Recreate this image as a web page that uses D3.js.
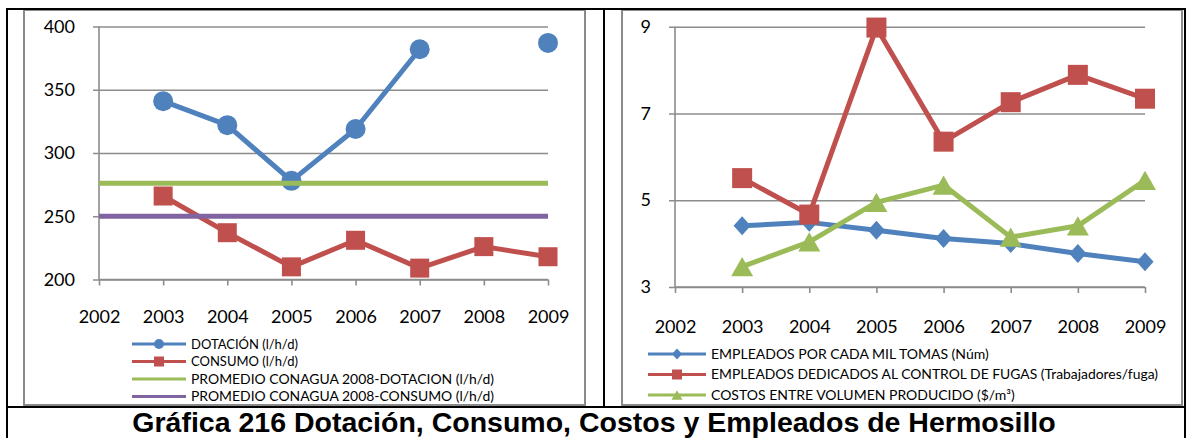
<!DOCTYPE html>
<html>
<head>
<meta charset="utf-8">
<script src="https://cdn.jsdelivr.net/npm/d3@7"></script>
<style>
  body { margin: 0; background: #fff; }
  svg { display: block; }
  .tick text { font-family: Lato, "Open Sans", sans-serif; fill: #000; }
</style>
</head>
<body>
<svg id="chart" width="1188" height="438"></svg>
<script>
// ---- data ----
const axisYears = [2002, 2003, 2004, 2005, 2006, 2007, 2008, 2009];
const years = [2003, 2004, 2005, 2006, 2007, 2008, 2009];

// left chart (l/h/d)
const dotacion = [341, 322, 278, 319, 382, null, 387];
const consumo = [266, 237, 210, 231, 209, 226, 218];
const promDotacion = [276, 276, 276, 276, 276, 276, 276, 276]; // 2002-2009
const promConsumo = [250, 250, 250, 250, 250, 250, 250, 250];
const leftTicks = [200, 250, 300, 350, 400];

// right chart
const empleadosMil = [4.41, 4.49, 4.31, 4.12, 4.00, 3.77, 3.58];
const empleadosFugas = [5.51, 4.67, 8.98, 6.35, 7.26, 7.89, 7.34];
const costos = [3.47, 4.04, 4.95, 5.35, 4.15, 4.41, 5.46];
const rightTicks = [3, 5, 7, 9];

const leftLegend = [
  "DOTACIÓN (l/h/d)",
  "CONSUMO (l/h/d)",
  "PROMEDIO CONAGUA 2008-DOTACION (l/h/d)",
  "PROMEDIO CONAGUA 2008-CONSUMO (l/h/d)"
];
const rightLegend = [
  "EMPLEADOS POR CADA MIL TOMAS (Núm)",
  "EMPLEADOS DEDICADOS AL CONTROL DE FUGAS (Trabajadores/fuga)",
  "COSTOS ENTRE VOLUMEN PRODUCIDO ($/m³)"
];
const title = "Gráfica 216 Dotación, Consumo, Costos y Empleados de Hermosillo";

const BLUE = "#4f81bd", RED = "#c0504d", GREEN = "#9bbb59", PURPLE = "#8064a2";
const GRID = "#8c8c8c", FRAME = "#8a8a8a";
const FONT = "Lato, 'Open Sans', sans-serif";

const svg = d3.select("#chart");

// ---- table borders and chart frames ----
svg.append("rect").attr("x", 24).attr("y", 10).attr("width", 561).attr("height", 395)
  .attr("fill", "none").attr("stroke", FRAME).attr("stroke-width", 2);
svg.append("rect").attr("x", 622).attr("y", 10).attr("width", 560).attr("height", 395)
  .attr("fill", "none").attr("stroke", FRAME).attr("stroke-width", 2);

const border = svg.append("g").attr("stroke", "#000").attr("stroke-width", 2);
border.append("line").attr("x1", 6).attr("x2", 1186).attr("y1", 9).attr("y2", 9);
border.append("line").attr("x1", 7).attr("x2", 7).attr("y1", 8).attr("y2", 438);
border.append("line").attr("x1", 604).attr("x2", 604).attr("y1", 8).attr("y2", 407);
border.append("line").attr("x1", 6).attr("x2", 1186).attr("y1", 407).attr("y2", 407);
border.append("line").attr("x1", 1185).attr("x2", 1185).attr("y1", 8).attr("y2", 438);

// ---- helpers ----
function drawAxes(g, x, y, yTicks, xPad) {
  const [x0, x1] = x.range();
  const yAxis = g.append("g").attr("transform", `translate(${x0},0)`)
    .call(d3.axisLeft(y).tickValues(yTicks).tickSize(6).tickPadding(18).tickFormat(d3.format("d")));
  yAxis.select(".domain").remove();
  yAxis.selectAll(".tick line").attr("x1", -6).attr("x2", x1 - x0)
    .attr("stroke", GRID).attr("stroke-width", 1.6);
  yAxis.selectAll(".tick text").style("font-size", "18px");

  const yb = y.range()[0];
  const xAxis = g.append("g").attr("transform", `translate(0,${yb})`)
    .call(d3.axisBottom(x).tickValues(axisYears).tickSize(6).tickPadding(xPad).tickFormat(d3.format("d")));
  xAxis.select(".domain").attr("stroke", GRID).attr("stroke-width", 1.6)
    .attr("d", `M${x0},0H${x1}`);
  xAxis.selectAll(".tick line").attr("stroke", GRID).attr("stroke-width", 1.6);
  xAxis.selectAll(".tick text").style("font-size", "18px");

  g.append("line").attr("x1", x0).attr("x2", x0)
    .attr("y1", y.range()[1]).attr("y2", yb)
    .attr("stroke", GRID).attr("stroke-width", 1.6);
}

function drawSeries(g, x, y, xs, values, color, width) {
  const line = d3.line().defined(d => d[1] != null)
    .x(d => x(d[0])).y(d => y(d[1]));
  g.append("path").datum(xs.map((yr, i) => [yr, values[i]]))
    .attr("d", line).attr("fill", "none").attr("stroke", color)
    .attr("stroke-width", width).attr("stroke-linejoin", "round");
}

function marker(g, kind, cx, cy, size, color) {
  if (kind === "circle") {
    g.append("circle").attr("cx", cx).attr("cy", cy).attr("r", size / 2).attr("fill", color);
  } else if (kind === "square") {
    g.append("rect").attr("x", cx - size / 2).attr("y", cy - size / 2)
      .attr("width", size).attr("height", size).attr("fill", color);
  } else if (kind === "diamond") {
    const h = size / 2, w = size * 0.45;
    g.append("path").attr("d", `M${cx},${cy - h}L${cx + w},${cy}L${cx},${cy + h}L${cx - w},${cy}Z`)
      .attr("fill", color);
  } else if (kind === "triangle") {
    const h = size * 0.48, w = size * 0.55;
    g.append("path").attr("d", `M${cx},${cy - h}L${cx + w},${cy + h}L${cx - w},${cy + h}Z`)
      .attr("fill", color);
  }
}

function drawMarkers(g, x, y, xs, values, kind, size, color) {
  xs.forEach((yr, i) => {
    if (values[i] != null) marker(g, kind, x(yr), y(values[i]), size, color);
  });
}

function drawLegend(g, items, x0, y0, step, fontSize, lens) {
  items.forEach((it, i) => {
    const yy = y0 + i * step;
    g.append("line").attr("x1", x0).attr("x2", x0 + it.len).attr("y1", yy).attr("y2", yy)
      .attr("stroke", it.color).attr("stroke-width", 3);
    if (it.kind) marker(g, it.kind, x0 + it.len / 2, yy, it.size, it.color);
    const t = g.append("text").attr("x", x0 + it.len + 5).attr("y", yy)
      .attr("dy", "0.35em").attr("font-family", FONT).attr("font-size", fontSize)
      .attr("fill", "#000").text(it.label);
    if (lens && lens[i]) t.attr("textLength", lens[i]).attr("lengthAdjust", "spacingAndGlyphs");
  });
}

// ---- left chart ----
const xL = d3.scaleLinear().domain([2002, 2009]).range([99, 548]);
const yL = d3.scaleLinear().domain([200, 400]).range([279.5, 26.5]);
const gL = svg.append("g");
drawAxes(gL, xL, yL, leftTicks, 25);

drawSeries(gL, xL, yL, years, dotacion, BLUE, 5);
drawMarkers(gL, xL, yL, years, dotacion, "circle", 20, BLUE);
drawSeries(gL, xL, yL, years, consumo, RED, 5);
drawMarkers(gL, xL, yL, years, consumo, "square", 19, RED);
drawSeries(gL, xL, yL, axisYears, promDotacion, GREEN, 5);
drawSeries(gL, xL, yL, axisYears, promConsumo, PURPLE, 5);

drawLegend(gL, [
  { label: leftLegend[0], color: BLUE, kind: "circle", size: 10, len: 54 },
  { label: leftLegend[1], color: RED, kind: "square", size: 10, len: 54 },
  { label: leftLegend[2], color: GREEN, len: 54 },
  { label: leftLegend[3], color: PURPLE, len: 54 }
], 132, 344, 17.5, 13, [null, null, 303, 303]);

// ---- right chart ----
const xR = d3.scaleLinear().domain([2002, 2009]).range([675, 1145]);
const yR = d3.scaleLinear().domain([3, 9]).range([287, 26.7]);
const gR = svg.append("g");
drawAxes(gR, xR, yR, rightTicks, 27);

drawSeries(gR, xR, yR, years, empleadosMil, BLUE, 5);
drawMarkers(gR, xR, yR, years, empleadosMil, "diamond", 19, BLUE);
drawSeries(gR, xR, yR, years, empleadosFugas, RED, 5);
drawMarkers(gR, xR, yR, years, empleadosFugas, "square", 20, RED);
drawSeries(gR, xR, yR, years, costos, GREEN, 5);
drawMarkers(gR, xR, yR, years, costos, "triangle", 20, GREEN);

drawLegend(gR, [
  { label: rightLegend[0], color: BLUE, kind: "diamond", size: 11, len: 58 },
  { label: rightLegend[1], color: RED, kind: "square", size: 10, len: 58 },
  { label: rightLegend[2], color: GREEN, kind: "triangle", size: 10, len: 58 }
], 648, 354, 20.5, 14, [null, 447, null]);

// ---- title ----
svg.append("text").attr("x", 594).attr("y", 432).attr("text-anchor", "middle")
  .attr("font-family", "'Liberation Sans', Arial, sans-serif").attr("font-weight", "bold")
  .attr("font-size", 28.5).attr("fill", "#000").text(title);
</script>
</body>
</html>
